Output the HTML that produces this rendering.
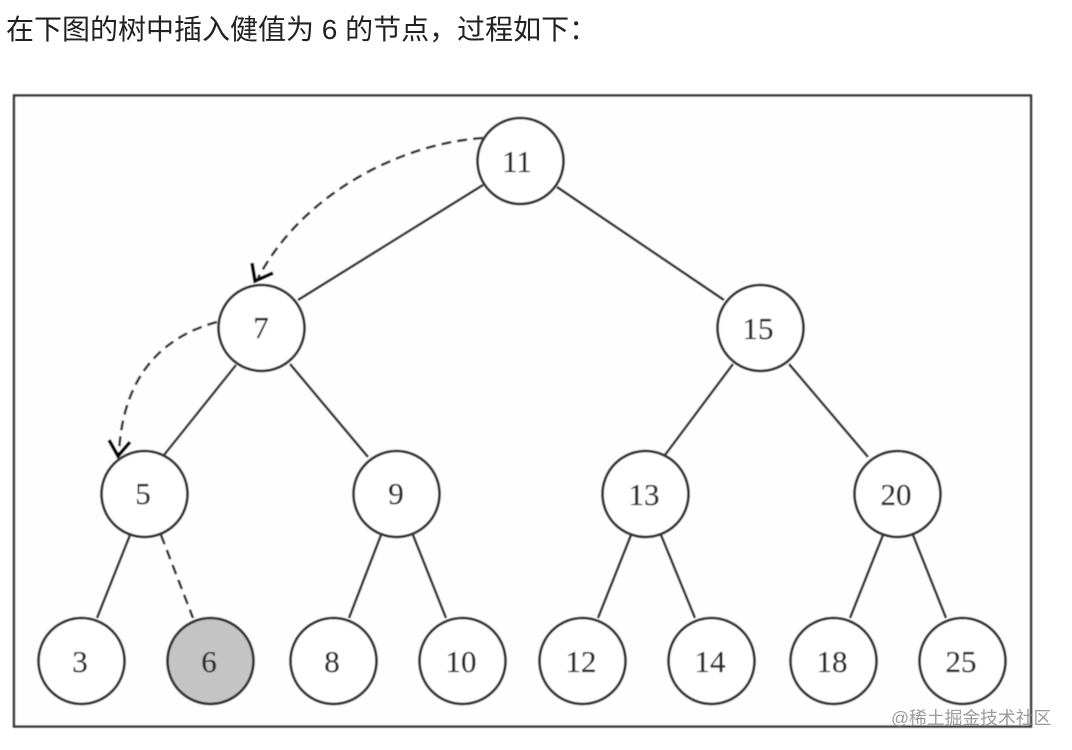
<!DOCTYPE html>
<html lang="zh">
<head>
<meta charset="utf-8">
<title>二叉搜索树插入</title>
<style>
html,body{margin:0;padding:0;background:#fff;width:1072px;height:750px;overflow:hidden}
svg{display:block;position:absolute;left:0;top:0}
.t{font-family:"Liberation Sans","Noto Sans CJK SC",sans-serif}
.n{font-family:"Liberation Serif",serif;font-size:31px;fill:#2a2a2a;text-anchor:middle;stroke:#2a2a2a;stroke-width:.3}
</style>
</head>
<body>
<svg width="1072" height="750" viewBox="0 0 1072 750">
<defs><filter id="b" x="-2%" y="-2%" width="104%" height="104%"><feGaussianBlur stdDeviation="0.55"/></filter></defs>
<text class="t" x="6" y="39" font-size="28" fill="#222">在下图的树中插入健值为 6 的节点，过程如下：</text>
<g filter="url(#b)">
<rect x="14" y="95.5" width="1017" height="631" fill="#fefefe" stroke="#333" stroke-width="2.4"/>
<g stroke="#333" stroke-width="2.6" fill="none">
<path d="M483 185L298 300M557 187L724 300M236 365L164 455M290 364L368 457M733 364L665 455M789 364L868 457M130 535L97 618M381 535L349 618M413 535L446 618M631 535L598 618M661 535L695 618M883 535L850 618M913 535L946 618"/>
<path d="M161 535L193 618" stroke-dasharray="10 6"/>
<path d="M483 138C405 143 305 190 258 278" stroke-dasharray="10 6"/>
<path d="M217 322C150 340 122 390 119 453" stroke-dasharray="10 6"/>
</g>
<g stroke="#000" stroke-width="3.6" fill="none">
<path d="M252 263L255 281L273 273"/>
<path d="M109 440L118 456L130 442"/>
</g>
<g stroke="#333" stroke-width="2.8" fill="#fff">
<circle cx="520.5" cy="161" r="43"/>
<circle cx="261.5" cy="328" r="43"/>
<circle cx="760.5" cy="328" r="43"/>
<circle cx="144.5" cy="494" r="43"/>
<circle cx="396.5" cy="494" r="43"/>
<circle cx="645.5" cy="494" r="43"/>
<circle cx="897.5" cy="494" r="43"/>
<circle cx="81.5" cy="661" r="43"/>
<circle cx="210.5" cy="661" r="43" fill="#c4c4c4"/>
<circle cx="333.5" cy="661" r="43"/>
<circle cx="462.5" cy="661" r="43"/>
<circle cx="582.5" cy="661" r="43"/>
<circle cx="711.5" cy="661" r="43"/>
<circle cx="833.5" cy="661" r="43"/>
<circle cx="962.5" cy="661" r="43"/>
</g>
<text class="n" x="517" y="172">11</text>
<text class="n" x="261" y="338">7</text>
<text class="n" x="758" y="339">15</text>
<text class="n" x="143" y="504">5</text>
<text class="n" x="396" y="504">9</text>
<text class="n" x="644" y="505">13</text>
<text class="n" x="896" y="505">20</text>
<text class="n" x="80" y="672">3</text>
<text class="n" x="209" y="672">6</text>
<text class="n" x="332" y="672">8</text>
<text class="n" x="461" y="672">10</text>
<text class="n" x="581" y="672">12</text>
<text class="n" x="710" y="672">14</text>
<text class="n" x="832" y="672">18</text>
<text class="n" x="961" y="672">25</text>
</g>
<text class="t" x="891" y="724" font-size="17.8" fill="#8a8a8a" fill-opacity="0.85">@稀土掘金技术社区</text>
</svg>
</body>
</html>
